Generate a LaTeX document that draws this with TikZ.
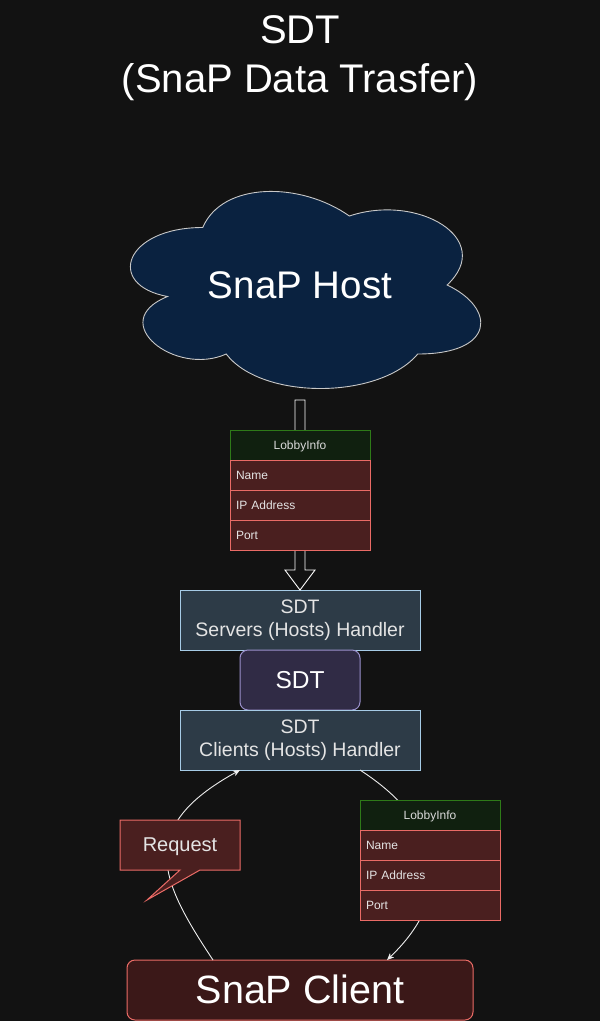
\documentclass[tikz,border=0pt]{standalone}
\usepackage{fontspec}
\setmainfont{Liberation Sans}
\usetikzlibrary{calc,arrows.meta}
\definecolor{bg}{HTML}{121212}
\definecolor{cloudfill}{HTML}{0A2240}
\definecolor{cloudline}{HTML}{C8C8C8}
\definecolor{hdrfill}{HTML}{10200F}
\definecolor{hdrline}{HTML}{2E7A18}
\definecolor{rowfill}{HTML}{4A1F1F}
\definecolor{rowline}{HTML}{EA6B66}
\definecolor{handfill}{HTML}{2D3B47}
\definecolor{handline}{HTML}{A6CBE6}
\definecolor{sdtfill}{HTML}{302B45}
\definecolor{sdtline}{HTML}{9A90CC}
\definecolor{clientfill}{HTML}{3B1818}
\definecolor{txt}{HTML}{E4E4E4}
\definecolor{conn}{HTML}{EEEEEE}
\tikzset{
  every node/.style={inner sep=0pt, outer sep=0pt},
  oneline/.style={text height=#1*0.905pt, text depth=#1*0.212pt, font=\fontsize{#1}{#1}\selectfont},
  hdr/.style={oneline=12, draw=hdrline, fill=hdrfill, line width=1pt, minimum width=140pt, minimum height=30pt, text=txt!90!gray},
  tabrow/.style={oneline=12, draw=rowline, fill=rowfill, line width=1pt, minimum height=30pt, text width=128pt, inner xsep=6pt, align=left, text=txt},
  handler/.style={draw=handline, fill=handfill, line width=1pt, minimum width=240pt, minimum height=60pt, align=center, text=txt, font=\fontsize{19.5}{23.5}\selectfont},
  conn/.style={draw=conn, line width=0.9pt, -{Stealth[length=7pt,width=6pt,inset=2pt]}},
}
\begin{document}
\begin{tikzpicture}[x=1pt,y=-1pt]
\fill[bg] (0,0) rectangle (600,1021);
\useasboundingbox (0,0) rectangle (600,1021);

% title
\node[text=white, align=center, font=\fontsize{40}{49}\selectfont] (title) at (300,58) {SDT\\(SnaP Data Trasfer)};

% cloud
\begin{scope}[shift={(105,170)}, x=391pt, y=-230pt]
\draw[cloudline, fill=cloudfill, line width=0.9pt]
 (0.25,0.25) .. controls (0.05,0.25) and (0,0.5) .. (0.16,0.55)
 .. controls (0,0.66) and (0.18,0.9) .. (0.31,0.8)
 .. controls (0.4,1) and (0.7,1) .. (0.8,0.8)
 .. controls (1,0.8) and (1,0.6) .. (0.875,0.5)
 .. controls (1,0.3) and (0.8,0.1) .. (0.625,0.2)
 .. controls (0.5,0.05) and (0.3,0.05) .. (0.25,0.25) -- cycle;
\end{scope}
\node[oneline=38.5, minimum width=391pt, minimum height=230pt, text=white] (host) at (300,285) {SnaP Host};

% handlers
\node[handler] (servers) at (300,620) {SDT\\Servers (Hosts) Handler};
\node[oneline=24.5, draw=sdtline, fill=sdtfill, line width=1pt, rounded corners=8pt, minimum width=120pt, minimum height=60pt, text=white] (sdt) at (300,680) {SDT};
\node[handler] (clients) at (300,740) {SDT\\Clients (Hosts) Handler};

% hollow arrow
\draw[white, fill=bg, line width=0.9pt]
 ($(host.south)+(-5,0)$) -- ($(servers.north)+(-5,-20)$) -- ($(servers.north)+(-15,-20)$) -- (servers.north)
 -- ($(servers.north)+(15,-20)$) -- ($(servers.north)+(5,-20)$) -- ($(host.south)+(5,0)$) -- cycle;

% table 1
\node[hdr] (h1) at (300,445) {LobbyInfo};
\node[tabrow] (n1) at (300,475) {Name};
\node[tabrow] (ip1) at (300,505) {IP Address};
\node[tabrow] (p1) at (300,535) {Port};

% client
\node[oneline=39.5, draw=rowline, fill=clientfill, line width=1pt, rounded corners=8pt, minimum width=346pt, minimum height=60pt, text=white] (client) at (300,990) {SnaP Client};

% curved connectors
\coordinate (ls) at ($(client.north)+(-87,0)$);
\coordinate (le) at ($(clients.south)+(-60,0)$);
\coordinate (rs) at ($(clients.south)+(60,0)$);
\coordinate (re) at ($(client.north)+(87,0)$);
\draw[conn] (ls) .. controls (160,880) and (135,828) .. (le);
\draw[conn] (rs) .. controls (445,825) and (455,895) .. (re);

% request callout
\fill[rowfill] (120,820) -- (240,820) -- (240,870) -- (200,870) -- (147,900) -- (180,870) -- (120,870) -- cycle;
\draw[rowline, line width=1pt, line join=miter] (120,820) -- (240,820) -- (240,870) -- (200,870) -- (147,900) -- (180,870) -- (120,870) -- cycle;
\node[oneline=20, text=txt] (req) at (180,845) {Request};

% table 2
\node[hdr] (h2) at (430,815) {LobbyInfo};
\node[tabrow] (n2) at (430,845) {Name};
\node[tabrow] (ip2) at (430,875) {IP Address};
\node[tabrow] (p2) at (430,905) {Port};
\end{tikzpicture}
\end{document}
